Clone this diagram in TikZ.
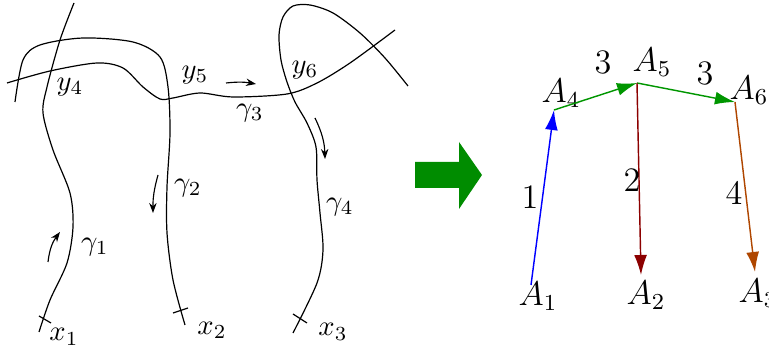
\documentclass[tikz,border=0pt]{standalone}
\usetikzlibrary{arrows.meta}
\definecolor{edgegreen}{RGB}{0,150,0}
\definecolor{bigarrow}{RGB}{0,140,0}
\definecolor{edgered}{RGB}{140,0,0}
\definecolor{edgebrown}{RGB}{175,70,0}
\begin{document}
\begin{tikzpicture}[
        x=0.35pt, y=-0.35pt,
        curve/.style={line width=0.42pt},
        tick/.style={line width=0.42pt},
        flow/.style={-{Stealth[length=3.5pt,width=2.6pt]}, line width=0.4pt},
        edge/.style={-{Latex[length=7pt,width=4.5pt]}, line width=0.5pt},
        vlabel/.style={inner sep=1pt, font=\large},
        wlabel/.style={inner sep=1pt, font=\large}
    ]
    \useasboundingbox (0,0) rectangle (769,350);

    \draw[curve] plot[smooth] coordinates {(39,332) (50,300) (67,263) (73,227) (70,193) (53,150) (43,113) (47,87) (60,40) (74,3)};
    \draw[curve] plot[smooth] coordinates {(7,83) (50,71) (97,63) (123,68) (143,87) (160,99) (173,98) (200,93) (233,97) (287,94) (317,83) (350,63) (395,30)};
    \draw[curve] plot[smooth] coordinates {(15,102) (23,60) (40,45) (83,38) (133,42) (160,57) (168,87) (170,133) (167,187) (167,233) (173,280) (185,325)};
    \draw[curve] plot[smooth] coordinates {(408,86) (385,58) (360,33) (333,13) (310,5) (293,6) (283,17) (279,35) (281,60) (287,82) (295,102) (307,123) (316,147) (317,180) (320,213) (323,250) (317,283) (293,333)};

    \draw[tick] (39,316) -- (51,323);
    \draw[tick] (173,313) -- (188,308);
    \draw[tick] (293,314) -- (307,323);

    \draw[flow] (48,262) to[bend left=15] (60,232);
    \draw[flow] (158,175) to[bend right=8] (153,213);
    \draw[flow] (226,83) to[bend left=8] (256,84);
    \draw[flow] (315,118) to[bend left=12] (325,159);

    \node at (70,87) {$y_4$};
    \node at (195,75) {$y_5$};
    \node at (305,70) {$y_6$};
    \node at (95,247) {$\gamma_1$};
    \node at (188,188) {$\gamma_2$};
    \node at (250,113) {$\gamma_3$};
    \node at (340,207) {$\gamma_4$};
    \node at (64,337) {$x_1$};
    \node at (212,330) {$x_2$};
    \node at (333,332) {$x_3$};

    \fill[bigarrow] (415,162) -- (459,162) -- (459,142) -- (482,175) -- (459,209) -- (459,188) -- (415,188) -- cycle;

    \coordinate (a1) at (531,285);
    \coordinate (a4) at (554,110);
    \coordinate (a5) at (637,83);
    \coordinate (a6) at (735,102);
    \coordinate (a2) at (641,275);
    \coordinate (a3) at (755,272);

    \node[vlabel] (la1) at (538,296) {$A_1$};
    \node[vlabel] (la2) at (646,295) {$A_2$};
    \node[vlabel] (la3) at (758,293) {$A_3$};
    \node[vlabel] (la4) at (561,93) {$A_4$};
    \node[vlabel] (la5) at (652,62) {$A_5$};
    \node[vlabel] (la6) at (749,90) {$A_6$};

    \draw[edge, blue] (a1) -- (a4);
    \draw[edge, edgegreen] (a4) -- (a5);
    \draw[edge, edgegreen] (a5) -- (a6);
    \draw[edge, edgered] (a5) -- (a2);
    \draw[edge, edgebrown] (a6) -- (a3);

    \node[wlabel] at (530,197) {$1$};
    \node[wlabel] at (603,62) {$3$};
    \node[wlabel] at (705,73) {$3$};
    \node[wlabel] at (632,180) {$2$};
    \node[wlabel] at (734,193) {$4$};
\end{tikzpicture}
\end{document}
